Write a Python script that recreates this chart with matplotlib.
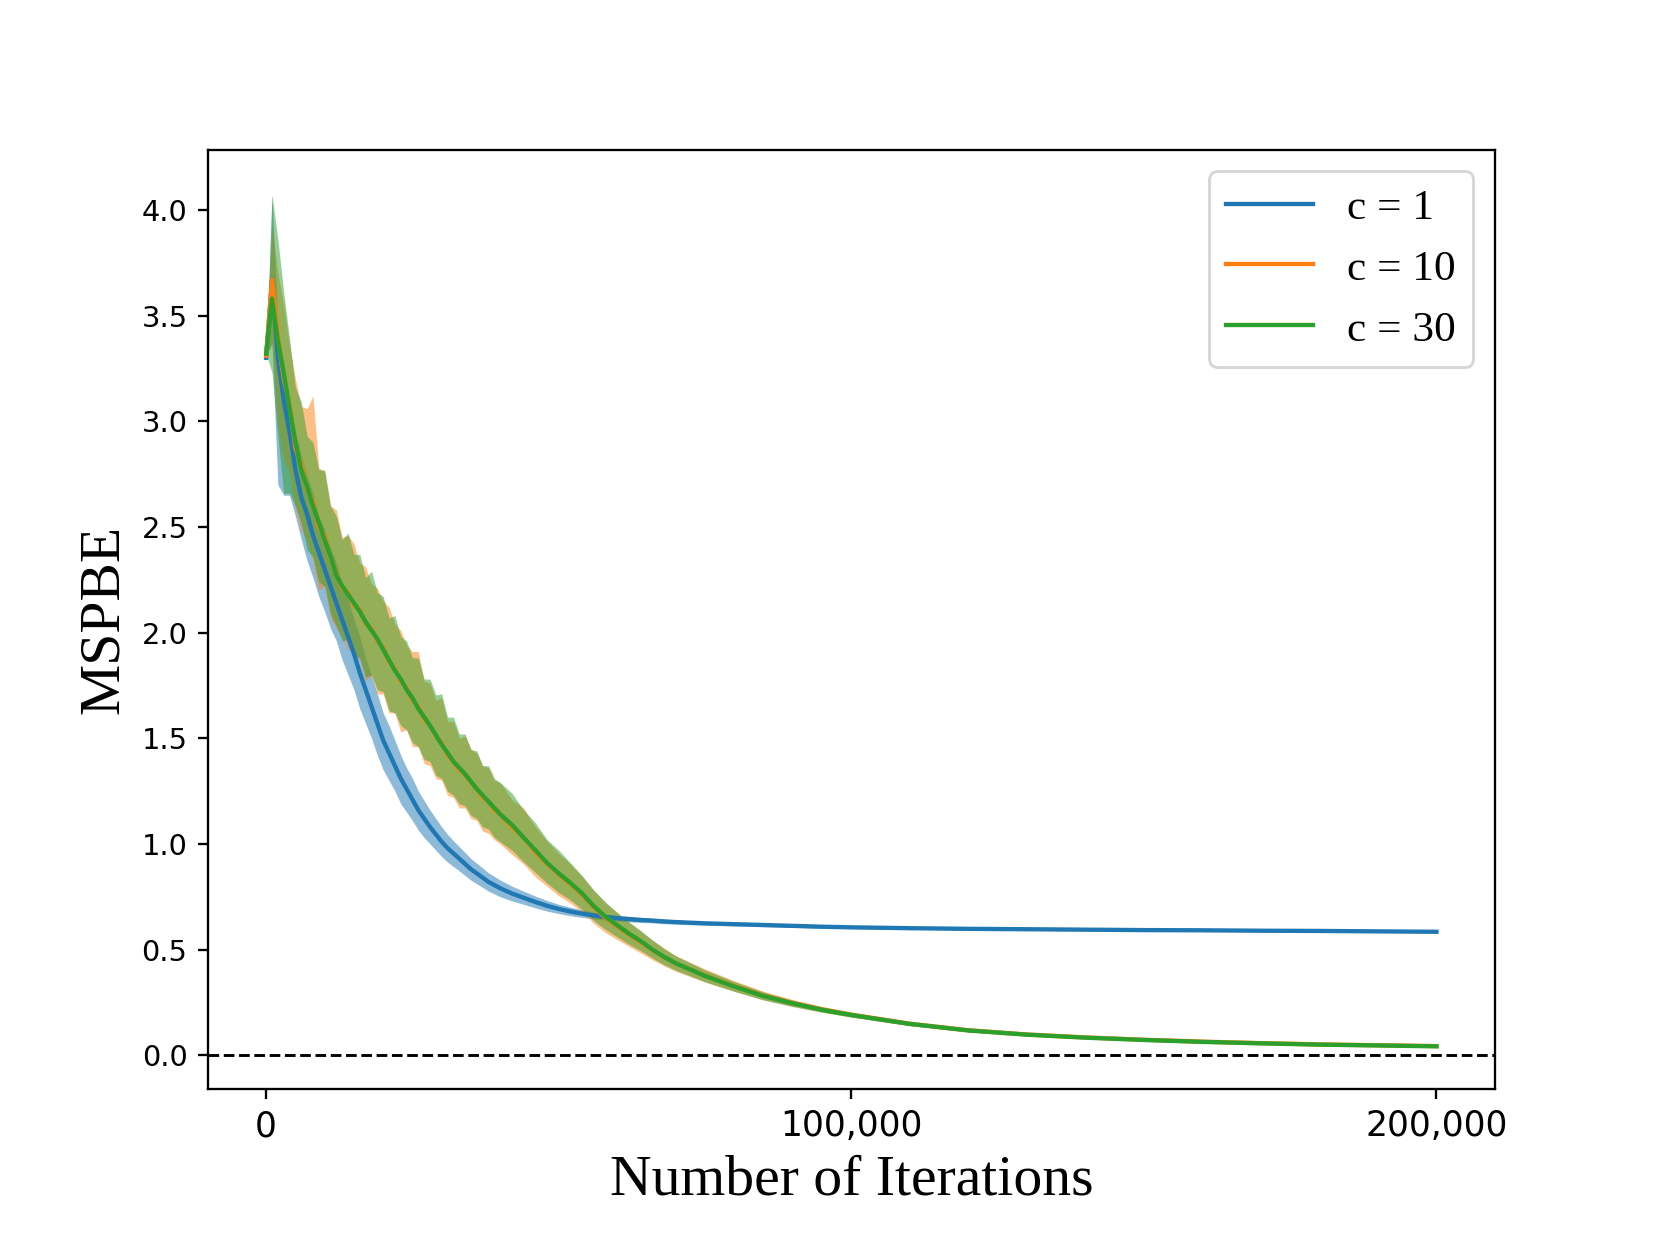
import matplotlib
matplotlib.use("Agg")
import matplotlib.pyplot as plt
from matplotlib.ticker import FuncFormatter
import numpy as np

# ---------------- data ----------------
iterations = [0, 1000, 2000, 3000, 4000, 5000, 6000, 7000, 8000, 9000,
              10000, 11000, 12000, 13000, 14000, 15000, 16000, 17000, 18000, 19000,
              20000, 21000, 22000, 23000, 24000, 25000, 26000, 27000, 28000, 29000,
              30000, 31000, 32000, 33000, 34000, 35000, 36000, 37000, 38000, 39000,
              40000,
              42000, 44000, 46000, 48000, 50000, 52000, 54000, 56000, 58000, 60000,
              62000, 64000, 66000, 68000, 70000,
              75000, 80000, 85000, 90000, 95000, 100000,
              110000, 120000, 130000, 140000, 150000, 160000, 170000, 180000, 190000, 200000]

labels = ["c = 1", "c = 10", "c = 30"]

# c = 1
mean_c1 = [3.30, 3.67, 3.30, 3.10, 2.95, 2.77, 2.64, 2.56, 2.46, 2.38,
           2.30, 2.22, 2.14, 2.06, 1.98, 1.90, 1.81, 1.73, 1.65, 1.57,
           1.49, 1.43, 1.37, 1.31, 1.26, 1.21, 1.16, 1.12, 1.08, 1.045,
           1.01, 0.98, 0.955, 0.93, 0.905, 0.88, 0.86, 0.84, 0.82, 0.805,
           0.79,
           0.765, 0.745, 0.725, 0.707, 0.692, 0.68, 0.67, 0.661, 0.654, 0.648,
           0.644, 0.64, 0.637, 0.633, 0.630,
           0.624, 0.620, 0.616, 0.612, 0.608, 0.605,
           0.601, 0.598, 0.596, 0.594, 0.592, 0.591, 0.589, 0.588, 0.586, 0.584]
upper_c1 = [0.0, 0.40, 0.15, 0.14, 0.16, 0.18, 0.20, 0.18, 0.20, 0.17,
            0.19, 0.18, 0.19, 0.17, 0.18, 0.16, 0.17, 0.15, 0.15, 0.14,
            0.13, 0.13, 0.12, 0.11, 0.10, 0.10, 0.09, 0.085, 0.08, 0.075,
            0.07, 0.065, 0.06, 0.057, 0.054, 0.05, 0.048, 0.046, 0.043, 0.041,
            0.039,
            0.035, 0.031, 0.028, 0.025, 0.022, 0.02, 0.018, 0.016, 0.015, 0.014,
            0.013, 0.012, 0.011, 0.011, 0.010,
            0.009, 0.008, 0.008, 0.007, 0.007, 0.006,
            0.006, 0.005, 0.005, 0.005, 0.005, 0.004, 0.004, 0.004, 0.004, 0.004]
lower_c1 = [0.0, 0.30, 0.60, 0.45, 0.30, 0.22, 0.20, 0.22, 0.20, 0.21,
            0.20, 0.20, 0.18, 0.19, 0.18, 0.17, 0.17, 0.16, 0.15, 0.15,
            0.14, 0.13, 0.12, 0.12, 0.11, 0.10, 0.095, 0.09, 0.08, 0.075,
            0.07, 0.066, 0.062, 0.058, 0.055, 0.052, 0.049, 0.046, 0.044, 0.042,
            0.04,
            0.035, 0.031, 0.028, 0.025, 0.022, 0.02, 0.018, 0.016, 0.015, 0.014,
            0.013, 0.012, 0.011, 0.011, 0.010,
            0.009, 0.008, 0.008, 0.007, 0.007, 0.006,
            0.006, 0.005, 0.005, 0.005, 0.005, 0.004, 0.004, 0.004, 0.004, 0.004]

# c = 10
mean_c10 = [3.31, 3.67, 3.40, 3.20, 3.08, 2.87, 2.80, 2.68, 2.62, 2.50,
            2.46, 2.35, 2.28, 2.21, 2.19, 2.13, 2.11, 2.04, 2.02, 1.96,
            1.93, 1.86, 1.83, 1.77, 1.74, 1.68, 1.65, 1.59, 1.56, 1.51,
            1.48, 1.42, 1.39, 1.35, 1.33, 1.29, 1.26, 1.22, 1.20, 1.16,
            1.14,
            1.08, 1.03, 0.96, 0.905, 0.855, 0.81, 0.76, 0.70, 0.65, 0.61,
            0.572, 0.535, 0.498, 0.464, 0.434,
            0.377, 0.327, 0.282, 0.247, 0.217, 0.192,
            0.149, 0.118, 0.098, 0.084, 0.073, 0.064, 0.057, 0.051, 0.047, 0.043]
upper_c10 = [0.0, 0.25, 0.30, 0.35, 0.28, 0.33, 0.27, 0.38, 0.50, 0.28,
             0.30, 0.25, 0.30, 0.24, 0.27, 0.29, 0.22, 0.27, 0.21, 0.25,
             0.22, 0.26, 0.21, 0.24, 0.20, 0.23, 0.26, 0.18, 0.20, 0.17,
             0.21, 0.16, 0.19, 0.15, 0.18, 0.16, 0.17, 0.15, 0.16, 0.14,
             0.15,
             0.13, 0.14, 0.12, 0.11, 0.10, 0.095, 0.085, 0.08, 0.07, 0.065,
             0.058, 0.052, 0.047, 0.042, 0.037,
             0.031, 0.025, 0.020, 0.016, 0.013, 0.011,
             0.009, 0.007, 0.006, 0.005, 0.005, 0.004, 0.004, 0.004, 0.004, 0.004]
lower_c10 = [0.0, 0.30, 0.42, 0.38, 0.33, 0.28, 0.31, 0.25, 0.28, 0.30,
             0.24, 0.28, 0.26, 0.23, 0.27, 0.22, 0.24, 0.27, 0.22, 0.25,
             0.22, 0.24, 0.21, 0.24, 0.20, 0.22, 0.19, 0.21, 0.19, 0.20,
             0.18, 0.19, 0.17, 0.18, 0.16, 0.17, 0.15, 0.16, 0.15, 0.14,
             0.14,
             0.13, 0.125, 0.115, 0.105, 0.10, 0.09, 0.082, 0.076, 0.07, 0.063,
             0.057, 0.051, 0.046, 0.041, 0.037,
             0.031, 0.025, 0.020, 0.016, 0.013, 0.011,
             0.009, 0.007, 0.006, 0.005, 0.005, 0.004, 0.004, 0.004, 0.004, 0.004]

# c = 30
mean_c30 = [3.32, 3.58, 3.38, 3.23, 3.06, 2.90, 2.77, 2.69, 2.60, 2.52,
            2.44, 2.36, 2.27, 2.22, 2.18, 2.14, 2.10, 2.05, 2.01, 1.97,
            1.92, 1.87, 1.82, 1.78, 1.73, 1.69, 1.64, 1.60, 1.56, 1.515,
            1.47, 1.43, 1.39, 1.36, 1.33, 1.295, 1.26, 1.23, 1.20, 1.17,
            1.14,
            1.09, 1.03, 0.97, 0.91, 0.86, 0.815, 0.765, 0.705, 0.655, 0.615,
            0.575, 0.54, 0.50, 0.465, 0.435,
            0.375, 0.325, 0.28, 0.245, 0.215, 0.19,
            0.148, 0.117, 0.097, 0.083, 0.072, 0.063, 0.056, 0.050, 0.046, 0.042]
upper_c30 = [0.0, 0.49, 0.48, 0.38, 0.33, 0.26, 0.32, 0.24, 0.30, 0.25,
             0.33, 0.24, 0.28, 0.22, 0.29, 0.23, 0.27, 0.21, 0.28, 0.22,
             0.25, 0.20, 0.26, 0.20, 0.23, 0.19, 0.24, 0.18, 0.22, 0.19,
             0.24, 0.17, 0.21, 0.16, 0.19, 0.15, 0.18, 0.14, 0.17, 0.14,
             0.15,
             0.15, 0.13, 0.13, 0.11, 0.11, 0.095, 0.085, 0.075, 0.07, 0.06,
             0.055, 0.05, 0.045, 0.04, 0.035,
             0.028, 0.023, 0.019, 0.015, 0.012, 0.010,
             0.008, 0.006, 0.005, 0.004, 0.004, 0.004, 0.004, 0.004, 0.004, 0.004]
lower_c30 = [0.0, 0.35, 0.45, 0.57, 0.40, 0.30, 0.25, 0.30, 0.24, 0.28,
             0.22, 0.27, 0.24, 0.26, 0.21, 0.25, 0.22, 0.26, 0.21, 0.24,
             0.20, 0.24, 0.20, 0.22, 0.19, 0.21, 0.18, 0.20, 0.17, 0.19,
             0.16, 0.18, 0.16, 0.17, 0.15, 0.16, 0.14, 0.15, 0.13, 0.14,
             0.13,
             0.12, 0.115, 0.105, 0.095, 0.09, 0.08, 0.075, 0.068, 0.06, 0.055,
             0.05, 0.045, 0.04, 0.037, 0.033,
             0.028, 0.023, 0.019, 0.015, 0.012, 0.010,
             0.008, 0.006, 0.005, 0.004, 0.004, 0.004, 0.004, 0.004, 0.004, 0.004]

x_ticks = [0, 100000, 200000]
y_ticks = [0.0, 0.5, 1.0, 1.5, 2.0, 2.5, 3.0, 3.5, 4.0]

# ---------------- plot ----------------
serif = ["Liberation Serif", "DejaVu Serif"]
DPI = 1661 / 8
fig = plt.figure(figsize=(8.0005, 6.0013), dpi=DPI)
ax = fig.add_subplot(111)
fig.subplots_adjust(left=0.125, right=0.9, top=0.88, bottom=0.126)

x = np.array(iterations)
colors = ["#1f77b4", "#ff7f0e", "#2ca02c"]
series = [(mean_c1, upper_c1, lower_c1), (mean_c10, upper_c10, lower_c10),
          (mean_c30, upper_c30, lower_c30)]
for (m, up, lo), col, lab in zip(series, colors, labels):
    m = np.array(m)
    ax.fill_between(x, m - np.array(lo), m + np.array(up), color=col, alpha=0.5,
                    linewidth=0)
    ax.plot(x, m, color=col, linewidth=1.5, label=lab)

ax.axhline(0.0, color="black", linestyle="--", linewidth=1.0)

ax.set_xlim(-10000, 210000)
ax.set_ylim(-0.16, 4.286)
ax.set_xticks(x_ticks)
ax.xaxis.set_major_formatter(FuncFormatter(lambda v, p: f"{v:,.0f}"))
ax.set_yticks(y_ticks)
ax.tick_params(axis="x", labelsize=12)
ax.tick_params(axis="y", labelsize=10)

ax.set_xlabel("Number of Iterations", fontsize=20, family=serif)
ax.set_ylabel("MSPBE", fontsize=20, family=serif)
ax.legend(loc="upper right", prop={"family": serif, "size": 15})

fig.savefig("out.png", dpi=DPI)
